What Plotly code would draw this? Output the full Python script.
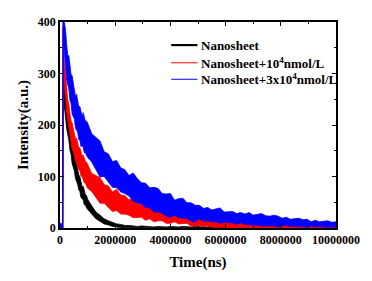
import numpy as np
import plotly.graph_objects as go

# time grid (ns)
time_pre = [0, 30000, 60000, 90000, 105000]
time_early = list(np.arange(120000, 1000000, 40000))
time_late = list(np.arange(1000000, 10000001, 150000))
time_ns = time_pre + time_early + time_late

# upper / lower edges of each noisy decay band
black_hi = ([6, 8, 5, 7, 300]
            + [305, 290, 282, 255, 232, 222, 201, 182, 174, 156, 147, 130, 129, 114, 103, 100, 91, 80, 81, 71, 65, 63]
            + [56, 43, 31, 25, 18, 14, 11, 8, 7, 5, 5, 4, 3, 4, 3,
               3, 2, 3, 2, 2, 3, 2, 2, 3, 2, 2, 3, 2, 2, 2, 3, 2, 2, 3, 2,
               2, 2, 3, 2, 2, 2, 3, 2, 2, 2, 3, 2, 2, 2, 2, 3, 2, 2, 2, 2,
               3, 2, 2, 2, 2, 2])
black_lo = ([0, 1, 0, 0, 0]
            + [253, 237, 215, 193, 183, 171, 151, 143, 125, 118, 111, 96, 90, 85, 74, 71, 59, 58, 55, 45, 45, 39]
            + [36, 27, 18, 13, 8, 6, 3, 2, 1, 0, 0, 0, 0, 0, 0,
               0, 0, 0, 0, 0, 0, 0, 0, 0, 0, 0, 0, 0, 0, 0, 0, 0, 0, 0, 0,
               0, 0, 0, 0, 0, 0, 0, 0, 0, 0, 0, 0, 0, 0, 0, 0, 0, 0, 0, 0,
               0, 0, 0, 0, 0, 0])

red_hi = ([5, 7, 4, 6, 390]
          + [345, 320, 302, 272, 249, 241, 222, 208, 204, 191, 186, 173, 175, 164, 156, 156, 149, 140, 142, 134, 129, 128]
          + [124, 106, 102, 98, 84, 82, 70, 75, 64, 63, 55, 57, 51, 46, 49, 41, 43, 43, 37, 36,
             38, 30, 32, 33, 27, 28, 25, 28, 22, 23, 19, 20, 21, 16, 18, 16, 12, 14, 12, 14,
             11, 10, 11, 9, 7, 9, 9, 8, 8, 5, 7, 7, 5, 6, 4, 6, 5, 6, 6, 5, 6])
red_lo = ([0, 1, 0, 1, 0]
          + [296, 281, 253, 224, 210, 196, 176, 169, 153, 149, 144, 131, 126, 123, 113, 111, 101, 100, 96, 88, 87, 82]
          + [77, 71, 60, 48, 48, 40, 32, 34, 27, 27, 25, 20, 20, 21, 15, 18, 12, 14, 14, 9,
             9, 12, 8, 9, 9, 4, 4, 5, 3, 4, 2, 1, 2, 0, 1, 0, 1, 0, 0, 1,
             0, 0, 0, 0, 0, 0, 0, 0, 0, 0, 0, 0, 0, 0, 0, 0, 0, 0, 0, 0, 0])

blue_hi = ([8, 10, 6, 9, 440]
           + [436, 399, 385, 357, 335, 335, 315, 298, 296, 279, 273, 255, 260, 245, 235, 236, 228, 217, 224, 213, 207, 208]
           + [204, 183, 176, 169, 148, 144, 129, 131, 117, 113, 102, 107, 96, 88, 87, 78, 79, 77, 67, 66,
              67, 54, 57, 58, 49, 49, 44, 44, 38, 40, 35, 37, 39, 31, 31, 32, 28, 30, 27, 30,
              25, 26, 28, 24, 23, 25, 23, 19, 21, 17, 18, 19, 16, 17, 12, 15, 12, 13, 14, 11, 12])
blue_lo = ([0, 2, 0, 1, 0]
           + [365, 343, 313, 287, 279, 270, 248, 242, 221, 218, 212, 194, 189, 186, 172, 170, 158, 160, 157, 146, 146, 141]
           + [137, 128, 114, 99, 100, 90, 79, 78, 70, 67, 62, 52, 49, 47, 40, 39, 31, 31, 29, 23,
              21, 25, 20, 19, 19, 13, 12, 18, 13, 14, 12, 12, 9, 11, 10, 10, 7, 10, 7, 7,
              5, 6, 4, 5, 4, 4, 2, 4, 5, 3, 4, 2, 3, 1, 4, 2, 3, 2, 1, 2, 1])

names = ["Nanosheet", "Nanosheet+10<sup>4</sup>nmol/L", "Nanosheet+3x10<sup>4</sup>nmol/L"]
colors = ["#000000", "#ff0000", "#0000ff"]
legend_widths = [2.2, 1, 1]
x_ticks = [0, 2000000, 4000000, 6000000, 8000000, 10000000]
x_ticklabels = ["0", "2000000", "4000000", "6000000", "8000000", "10000000"]
y_ticks = [0, 100, 200, 300, 400]

FONT = "Liberation Serif"

fig = go.Figure()
bands = [(black_hi, black_lo), (red_hi, red_lo), (blue_hi, blue_lo)]
for (hi, lo), c, n in zip(bands, colors, names):
    xs = time_ns + time_ns[::-1]
    ys = hi + lo[::-1]
    fig.add_trace(go.Scatter(x=xs, y=ys, mode="lines", fill="toself", fillcolor=c,
                             line=dict(color=c, width=0.8), name=n, showlegend=False,
                             hoverinfo="skip"))

axis_common = dict(showgrid=False, zeroline=False, showline=True, linecolor="black",
                   linewidth=1.6, mirror="allticks", ticks="inside", ticklen=4,
                   tickwidth=1, tickcolor="black",
                   tickfont=dict(family=FONT, size=12, color="black", weight="bold"))

fig.update_xaxes(range=[0, 10000000], tickvals=x_ticks, ticktext=x_ticklabels,
                 minor=dict(ticks="inside", ticklen=2, dtick=1000000, tick0=0, tickcolor="black"),
                 title=dict(text="<b>Time(ns)</b>", font=dict(family=FONT, size=15, color="black"),
                            standoff=10),
                 **axis_common)
fig.update_yaxes(range=[0, 400], tickvals=y_ticks,
                 minor=dict(ticks="inside", ticklen=2, dtick=50, tick0=0, tickcolor="black"),
                 title=dict(text="<b>Intensity(a.u.)</b>", font=dict(family=FONT, size=15, color="black"),
                            standoff=6),
                 **axis_common)

# legend drawn as line samples and labels inside the plot
legend_rows_y = [0.888, 0.802, 0.722]
for n, c, w, yy in zip(names, colors, legend_widths, legend_rows_y):
    fig.add_shape(type="line", xref="paper", yref="paper", x0=0.403, x1=0.498, y0=yy, y1=yy,
                  line=dict(color=c, width=w))
    fig.add_annotation(xref="paper", yref="paper", x=0.503, y=yy, xanchor="left", yanchor="middle",
                       text="<b>" + n + "</b>", showarrow=False,
                       font=dict(family=FONT, size=13, color="black"))

fig.update_layout(
    width=372, height=281,
    margin=dict(l=60, r=31, t=22, b=53),
    paper_bgcolor="white", plot_bgcolor="white",
    showlegend=False,
)

fig.write_html("out.html", config={"displayModeBar": False},
               post_script="document.body.style.margin='0';")
